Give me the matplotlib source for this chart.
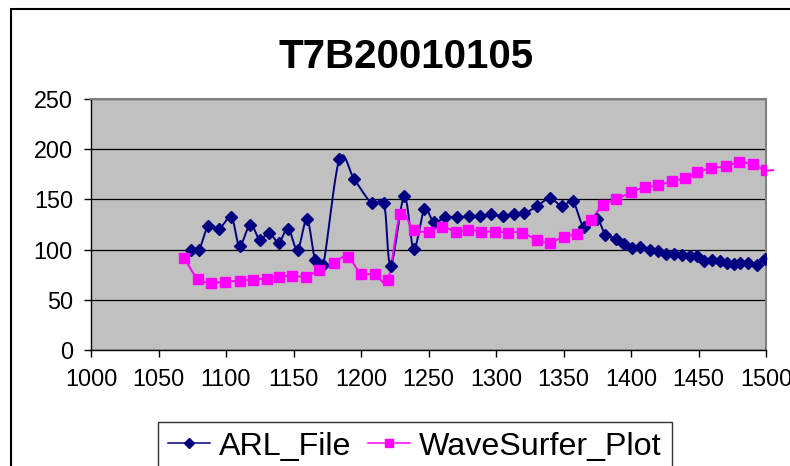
import numpy as np
import matplotlib
matplotlib.use("Agg")
import matplotlib.pyplot as plt
from matplotlib.patches import Rectangle

# ---------------- data ----------------
title = "T7B20010105"
series_names = ["ARL_File", "WaveSurfer_Plot"]

arl_x = [1074, 1080, 1087, 1095, 1104, 1110, 1118, 1125, 1132, 1139, 1146, 1153,
         1160, 1166, 1172, 1184, 1195, 1208, 1217, 1222, 1232, 1239, 1247, 1254,
         1262, 1271, 1280, 1288, 1296, 1305, 1313, 1321, 1330, 1340, 1349, 1357,
         1365, 1375, 1381, 1389, 1395, 1401, 1407, 1414, 1420, 1426, 1432, 1438,
         1444, 1449, 1454, 1460, 1466, 1471, 1476, 1481, 1487, 1493, 1499, 1505]
arl_y = [100, 100, 124, 121, 132, 104, 125, 110, 117, 107, 121, 100,
         130, 90, 85, 190, 170, 146, 146, 84, 153, 101, 140, 127,
         132, 132, 133, 133, 135, 133, 135, 136, 143, 151, 143, 148,
         123, 130, 115, 111, 106, 102, 103, 100, 99, 96, 96, 95,
         94, 94, 89, 90, 89, 87, 86, 87, 87, 85, 91, 87]

ws_x = [1069, 1079, 1089, 1099, 1110, 1120, 1130, 1139, 1149, 1159, 1169, 1180,
        1190, 1200, 1210, 1220, 1229, 1239, 1250, 1260, 1270, 1279, 1289, 1299,
        1309, 1319, 1330, 1340, 1350, 1360, 1370, 1379, 1389, 1400, 1410, 1420,
        1430, 1440, 1449, 1459, 1470, 1480, 1490, 1500, 1510]
ws_y = [92, 71, 67, 68, 69, 70, 71, 73, 74, 73, 80, 87,
        93, 76, 76, 70, 135, 120, 118, 123, 118, 120, 118, 118,
        117, 117, 110, 107, 113, 116, 129, 144, 150, 157, 162, 164,
        168, 171, 177, 181, 183, 187, 185, 179, 180]

x_ticks = [1000, 1050, 1100, 1150, 1200, 1250, 1300, 1350, 1400, 1450, 1500]
y_ticks = [0, 50, 100, 150, 200, 250]


def catmull_rom(xs, ys, n=20):
    """Smooth curve through the points (uniform Catmull-Rom, like Excel smoothing)."""
    p = np.column_stack([xs, ys]).astype(float)
    p = np.vstack([p[0], p, p[-1]])
    out = []
    t = np.linspace(0, 1, n, endpoint=False)[:, None]
    for i in range(1, len(p) - 2):
        p0, p1, p2, p3 = p[i - 1], p[i], p[i + 1], p[i + 2]
        seg = 0.5 * ((2 * p1) + (-p0 + p2) * t + (2 * p0 - 5 * p1 + 4 * p2 - p3) * t ** 2
                     + (-p0 + 3 * p1 - 3 * p2 + p3) * t ** 3)
        out.append(seg)
    out.append(p[-2][None, :])
    c = np.vstack(out)
    return c[:, 0], c[:, 1]


plt.rcParams['font.family'] = ['Liberation Sans', 'DejaVu Sans']

W, H = 790, 466
fig = plt.figure(figsize=(W / 100, H / 100), dpi=100)
fig.patch.set_facecolor('white')

# outer chart border
fig.patches.append(Rectangle((11 / W, -0.2), 2.0, 1 - 9 / H + 0.2, transform=fig.transFigure,
                             fill=False, edgecolor='black', linewidth=1.5, clip_on=False))

ax = fig.add_axes([91 / W, 1 - 350 / H, 675 / W, 251 / H])
ax.set_facecolor('#C0C0C0')
ax.set_xlim(1000, 1500)
ax.set_ylim(0, 250)
ax.set_xticks(x_ticks)
ax.set_yticks(y_ticks)
ax.tick_params(axis='both', direction='out', length=5, width=1, color='black',
               labelsize=16.8, pad=8)
ax.yaxis.grid(True, color='black', linewidth=0.9)
ax.set_axisbelow(True)
for s in ['left', 'bottom']:
    ax.spines[s].set_color('black')
    ax.spines[s].set_linewidth(1.0)
for s in ['top', 'right']:
    ax.spines[s].set_color('#808080')
    ax.spines[s].set_linewidth(1.5)

clip_rect = Rectangle((1000, 0), 506, 250, transform=ax.transData, visible=False)
ax.add_patch(clip_rect)

colors = ['#000080', '#FF00FF']
markers = ['D', 's']
msizes = [6.6, 6.8]
for (xs, ys), col, mk, ms, name in zip([(arl_x, arl_y), (ws_x, ws_y)], colors, markers,
                                       msizes, series_names):
    sx, sy = catmull_rom(xs, ys)
    ln, = ax.plot(sx, sy, color=col, linewidth=1.4, zorder=3)
    ln.set_clip_path(clip_rect)
    ax.plot(xs, ys, linestyle='none', marker=mk, markersize=ms, color=col,
            markeredgecolor=col, zorder=4)

handles = [plt.Line2D([], [], color=c, marker=m, markersize=s * 0.75, linewidth=1.1)
           for c, m, s in zip(colors, markers, msizes)]
leg = fig.legend(handles, series_names, loc='upper left',
                 bbox_to_anchor=(158 / W, 1 - 422 / H), bbox_transform=fig.transFigure,
                 ncol=2, fontsize=23.2, frameon=True, fancybox=False, borderaxespad=0,
                 borderpad=0.3, handlelength=1.3, handletextpad=0.3, columnspacing=0.5)
leg.get_frame().set_edgecolor('black')
leg.get_frame().set_linewidth(1.0)

fig.text(406 / W, 1 - 68 / H, title, ha='center', va='baseline', fontsize=29,
         fontweight='bold')

fig.savefig('out.png', dpi=100)
